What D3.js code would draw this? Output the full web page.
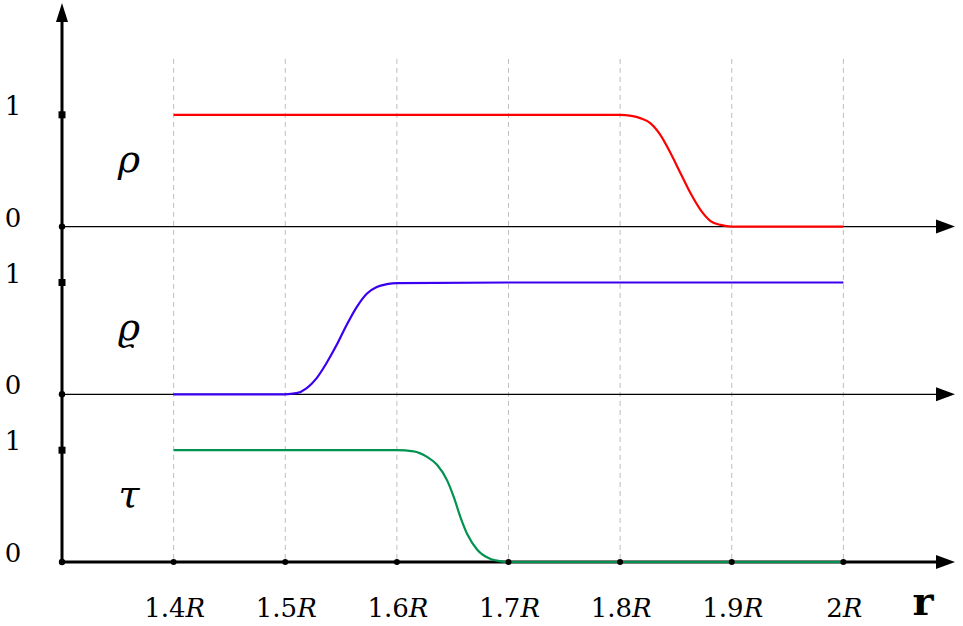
<!DOCTYPE html>
<html>
<head>
<meta charset="utf-8">
<script src="https://cdn.jsdelivr.net/npm/d3@7"></script>
<style>
  html, body { margin: 0; padding: 0; background: #fff; }
  svg { display: block; }
</style>
</head>
<body>
<svg id="chart" width="963" height="626"></svg>
<script>
// ---------- data ----------
const xTicks = [1.4, 1.5, 1.6, 1.7, 1.8, 1.9, 2.0];
const xTickLabels = ["1.4", "1.5", "1.6", "1.7", "1.8", "1.9", "2"];
const panelNames = ["ρ", "ϱ", "τ"];
const panelOffsets = [3.0, 1.5, 0.0];   // baseline (value 0) of each panel in axis units
const yTickLabels = ["0", "1"];

// ρ (red)
const rhoR = [1.4, 1.8, 1.81, 1.818, 1.827, 1.836, 1.845, 1.854, 1.863, 1.872, 1.881, 1.89, 1.9, 2.0];
const rhoV = [1, 1, 0.99, 0.97, 0.925, 0.82, 0.66, 0.48, 0.30, 0.15, 0.05, 0.015, 0, 0];
// ϱ (blue)
const varrhoR = [1.4, 1.5, 1.51, 1.519, 1.528, 1.537, 1.546, 1.555, 1.564, 1.573, 1.582, 1.591, 1.6, 1.7, 2.0];
const varrhoV = [0, 0, 0.01, 0.054, 0.143, 0.28, 0.44, 0.62, 0.78, 0.90, 0.96, 0.985, 0.995, 1, 1];
// τ (green)
const tauR = [1.4, 1.6, 1.615, 1.627, 1.636, 1.645, 1.651, 1.657, 1.663, 1.672, 1.684, 1.692, 1.7, 2.0];
const tauV = [1, 1, 0.99, 0.94, 0.87, 0.73, 0.58, 0.40, 0.25, 0.11, 0.027, 0.008, 0, 0];

const seriesColors = ["#ff0000", "#3a00f0", "#00924f"];

// ---------- setup ----------
const svg = d3.select("#chart");
const x = d3.scaleLinear().domain([1.3, 2.1]).range([62, 955]);
const y = d3.scaleLinear().domain([0, 5]).range([562, 3]);
const serif = "'DejaVu Serif', serif";

// dashed vertical guides
svg.append("g").selectAll("line").data(xTicks).join("line")
  .attr("x1", d => x(d)).attr("x2", d => x(d))
  .attr("y1", y(4.5)).attr("y2", y(0))
  .attr("stroke", "#bdbdbd").attr("stroke-width", 1)
  .attr("stroke-dasharray", "5,4");

// horizontal axes
const arrowLen = 19, arrowHalf = 7;
panelOffsets.forEach((off, i) => {
  const yy = y(off);
  const thick = off === 0;
  svg.append("line")
    .attr("x1", x(1.3)).attr("x2", x(2.1) - arrowLen + 2)
    .attr("y1", yy).attr("y2", yy)
    .attr("stroke", "#000").attr("stroke-width", thick ? 3 : 1.2);
  svg.append("path")
    .attr("d", `M${x(2.1)},${yy} L${x(2.1) - arrowLen},${yy - arrowHalf} L${x(2.1) - arrowLen},${yy + arrowHalf} Z`)
    .attr("fill", "#000");
});

// curves
const allSeries = [
  {r: rhoR, v: rhoV},
  {r: varrhoR, v: varrhoV},
  {r: tauR, v: tauV}
];
const line = d3.line().curve(d3.curveMonotoneX);
allSeries.forEach((s, i) => {
  const off = panelOffsets[i];
  const pts = s.r.map((r, k) => [x(r), y(off + s.v[k])]);
  svg.append("path")
    .attr("d", line(pts))
    .attr("fill", "none")
    .attr("stroke", seriesColors[i])
    .attr("stroke-width", 2.2);
});

// vertical axis
svg.append("line")
  .attr("x1", x(1.3)).attr("x2", x(1.3))
  .attr("y1", y(0) + 1).attr("y2", y(5) + arrowLen - 2)
  .attr("stroke", "#000").attr("stroke-width", 3);
svg.append("path")
  .attr("d", `M${x(1.3)},${y(5)} L${x(1.3) - 6},${y(5) + arrowLen} L${x(1.3) + 6},${y(5) + arrowLen} Z`)
  .attr("fill", "#000");

// y ticks: dots at 0, squares at 1
panelOffsets.forEach((off, i) => {
  svg.append("circle").attr("cx", x(1.3)).attr("cy", y(off)).attr("r", 3.2).attr("fill", "#000");
  svg.append("rect")
    .attr("x", x(1.3) - 3.5).attr("y", y(off + 1) - 3.5)
    .attr("width", 7).attr("height", 7).attr("fill", "#000");
  [0, 1].forEach(v => {
    svg.append("text")
      .attr("x", 13).attr("y", y(off + v))
      .attr("text-anchor", "middle")
      .attr("font-family", serif).attr("font-size", 26)
      .text(yTickLabels[v]);
  });
  svg.append("text")
    .attr("x", 129).attr("y", y(off + 0.49))
    .attr("text-anchor", "middle")
    .attr("font-family", serif).attr("font-style", "italic").attr("font-size", 38)
    .text(panelNames[i]);
});

// x ticks: dots on bottom axis + labels
svg.append("g").selectAll("circle").data(xTicks).join("circle")
  .attr("cx", d => x(d)).attr("cy", y(0)).attr("r", 3).attr("fill", "#000");
const xl = svg.append("g").selectAll("text").data(xTicks).join("text")
  .attr("x", d => x(d) + 1).attr("y", 617)
  .attr("text-anchor", "middle")
  .attr("font-family", serif).attr("font-size", 26);
xl.append("tspan").text((d, i) => xTickLabels[i]);
xl.append("tspan").attr("font-style", "italic").text("R");

svg.append("text")
  .attr("x", 923).attr("y", 615)
  .attr("text-anchor", "middle")
  .attr("font-family", serif).attr("font-weight", "bold").attr("font-size", 40)
  .text("r");
</script>
</body>
</html>
